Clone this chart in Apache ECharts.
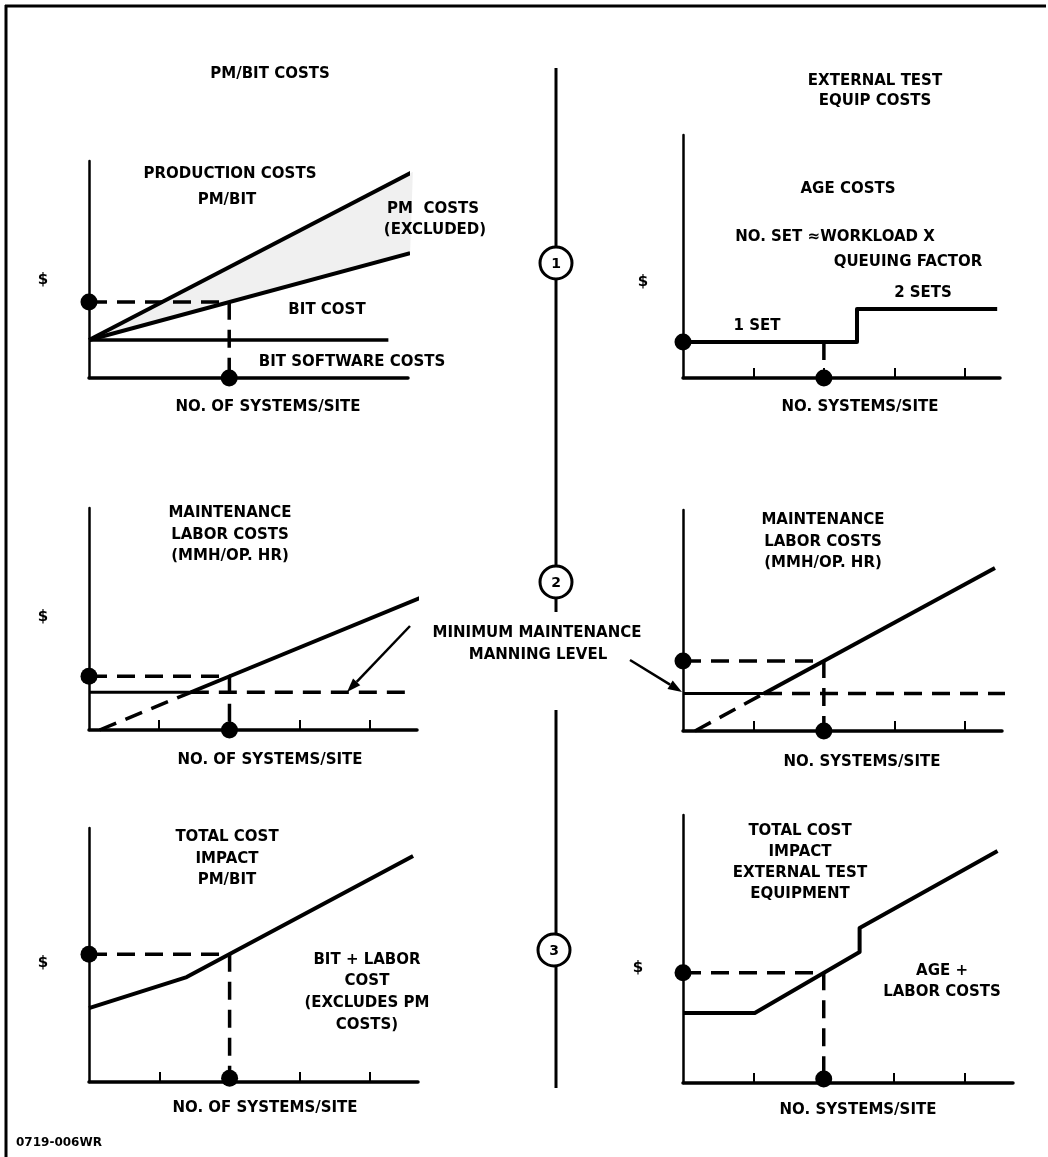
<!DOCTYPE html>
<html>
<head>
<meta charset="utf-8">
<script src="https://cdn.jsdelivr.net/npm/echarts@6/dist/echarts.min.js"></script>
<style>
html,body{margin:0;padding:0;background:#fff;}
#chart{width:1048px;height:1157px;}
</style>
</head>
<body>
<div id="chart"></div>
<script>
// ---------- DATA (schematic values in arbitrary units: x = systems/site, y = $) ----------
// Panel 1: PM/BIT costs
const p1Production = [[0, 1.75], [4.62, 9.5]];
const p1Bit = [[0, 1.75], [4.58, 5.75]];
const p1Software = [[0, 1.75], [4.27, 1.75]];
const p1Guide = [[0, 3.5], [2, 3.5], [2, 0]];
const p1Dots = [[0, 3.5], [2, 0]];
// Panel 2: external test equipment (AGE) costs
const p2Step = [[0, 1.48], [2.47, 1.48], [2.47, 2.84], [4.46, 2.84]];
const p2Guide = [[2, 1.48], [2, 0]];
const p2Dots = [[0, 1.48], [2, 0]];
// Panel 3: maintenance labor costs (PM/BIT)
const p3LaborDashed = [[0.15, 0], [1.45, 1.7]];
const p3LaborSolid = [[1.45, 1.7], [4.75, 6.0]];
const p3MinSolid = [[0, 1.7], [1.45, 1.7]];
const p3MinDashed = [[1.45, 1.7], [4.6, 1.7]];
const p3Guide = [[0, 2.42], [2, 2.42], [2, 0]];
const p3Dots = [[0, 2.42], [2, 0]];
// Panel 4: maintenance labor costs (external test equipment)
const p4LaborDashed = [[0.17, 0], [1.15, 1.7]];
const p4LaborSolid = [[1.15, 1.7], [4.43, 7.38]];
const p4MinSolid = [[0, 1.7], [1.15, 1.7]];
const p4MinDashed = [[1.15, 1.7], [4.67, 1.7]];
const p4Guide = [[0, 3.17], [2, 3.17], [2, 0]];
const p4Dots = [[0, 3.17], [2, 0]];
// Panel 5: total cost impact PM/BIT
const p5Total = [[0, 2.91], [1.39, 4.13], [4.61, 8.9]];
const p5Guide = [[0, 5.03], [2, 5.03], [2, 0]];
const p5Dots = [[0, 5.03], [2, 0.15]];
// Panel 6: total cost impact external test equipment
const p6Total = [[0, 2.61], [1.02, 2.61], [2.51, 4.89], [2.51, 5.78], [4.47, 8.66]];
const p6Guide = [[0, 4.11], [2, 4.11], [2, 0]];
const p6Dots = [[0, 4.11], [2, 0.15]];
// Tick positions on the x axes
const xTicks = [1, 2, 3, 4];
// Axis extents per panel
const xMax = [4.55, 4.5, 4.67, 4.53, 4.68, 4.69];
const yMax = [10, 10, 10, 10, 10, 10];
const panelHasTicks = [false, true, true, true, true, true];

// ---------- LAYOUT ----------
const grids = [
  {left: 89, top: 161, width: 319, height: 217},
  {left: 683, top: 135, width: 317, height: 243},
  {left: 89, top: 508, width: 328, height: 222},
  {left: 683, top: 510, width: 319, height: 221},
  {left: 89, top: 828, width: 329, height: 254},
  {left: 683, top: 815, width: 330, height: 268}
];
const FONT = '"DejaVu Sans", "Liberation Sans", Arial, sans-serif';
const DASH = [18, 10];

const xAxes = grids.map((g, i) => ({
  type: 'value', gridIndex: i, min: 0, max: xMax[i],
  axisLine: {show: true, onZero: false, lineStyle: {color: '#000', width: 3.5}},
  axisTick: {show: panelHasTicks[i], inside: true, length: 10, customValues: xTicks,
             lineStyle: {color: '#000', width: 2}},
  axisLabel: {show: false}, splitLine: {show: false}
}));
const yAxes = grids.map((g, i) => ({
  type: 'value', gridIndex: i, min: 0, max: yMax[i],
  axisLine: {show: true, onZero: false, lineStyle: {color: '#000', width: 2.5}},
  axisTick: {show: false}, axisLabel: {show: false}, splitLine: {show: false}
}));

function line(idx, data, dashed, width) {
  return {
    type: 'line', xAxisIndex: idx, yAxisIndex: idx, data: data,
    symbol: 'none', clip: false, silent: true, animation: false,
    lineStyle: {color: '#000', width: width || 3.5, type: dashed ? DASH : 'solid', cap: 'butt', join: 'round'}
  };
}
function dots(idx, data) {
  return {
    type: 'scatter', xAxisIndex: idx, yAxisIndex: idx, data: data, clip: false,
    symbol: 'circle', symbolSize: 17, itemStyle: {color: '#000', opacity: 1}, silent: true, animation: false, z: 5
  };
}

const series = [
  // panel 1 shaded PM cost wedge
  {
    type: 'custom', xAxisIndex: 0, yAxisIndex: 0, data: [0], silent: true, animation: false, clip: false,
    renderItem: function (params, api) {
      const pts = [p1Production[0], p1Production[1], p1Bit[1]].map(p => api.coord(p));
      return {type: 'polygon', shape: {points: pts}, style: {fill: 'rgba(0,0,0,0.06)'}};
    }
  },
  line(0, p1Production, false, 4), line(0, p1Bit, false, 4), line(0, p1Software, false, 3.5),
  line(0, p1Guide, true, 3.5), dots(0, p1Dots),
  line(1, p2Step, false, 4), line(1, p2Guide, true, 3.5), dots(1, p2Dots),
  line(2, p3LaborDashed, true, 3.5), line(2, p3LaborSolid, false, 4),
  line(2, p3MinSolid, false, 3), line(2, p3MinDashed, true, 3.5),
  line(2, p3Guide, true, 3.5), dots(2, p3Dots),
  line(3, p4LaborDashed, true, 3.5), line(3, p4LaborSolid, false, 4),
  line(3, p4MinSolid, false, 3), line(3, p4MinDashed, true, 3.5),
  line(3, p4Guide, true, 3.5), dots(3, p4Dots),
  line(4, p5Total, false, 4), line(4, p5Guide, true, 3.5), dots(4, p5Dots),
  line(5, p6Total, false, 4), line(5, p6Guide, true, 3.5), dots(5, p6Dots)
];

// ---------- ANNOTATIONS ----------
function T(text, x, y, size, align) {
  return {
    type: 'text', x: x, y: y, silent: true, z: 10,
    style: {text: text, font: 'bold ' + (size || 15) + 'px ' + FONT, fill: '#000',
            align: align || 'center', verticalAlign: 'middle'}
  };
}
function L(x1, y1, x2, y2, w) {
  return {type: 'line', silent: true, shape: {x1: x1, y1: y1, x2: x2, y2: y2},
          style: {stroke: '#000', lineWidth: w || 3}};
}
function arrow(x1, y1, x2, y2) {
  const a = Math.atan2(y2 - y1, x2 - x1), len = 14, hw = 5;
  const bx = x2 - len * Math.cos(a), by = y2 - len * Math.sin(a);
  const px = -Math.sin(a) * hw, py = Math.cos(a) * hw;
  return [
    L(x1, y1, bx, by, 2.5),
    {type: 'polygon', silent: true, shape: {points: [[x2, y2], [bx + px, by + py], [bx - px, by - py]]},
     style: {fill: '#000'}}
  ];
}
function circleNum(n, cx, cy) {
  return [
    {type: 'circle', silent: true, z: 8, shape: {cx: cx, cy: cy, r: 16},
     style: {fill: '#fff', stroke: '#000', lineWidth: 3}},
    Object.assign(T(String(n), cx, cy + 1, 14), {z: 9})
  ];
}

const graphics = [
  // frame (top and left)
  L(5, 6, 1046, 6, 3), L(6, 5, 6, 1157, 3),
  // central connector
  L(556, 68, 556, 612, 3), L(556, 710, 556, 1088, 3),
  ...circleNum(1, 556, 263), ...circleNum(2, 556, 582), ...circleNum(3, 554, 950),
  // panel 1
  T('PM/BIT COSTS', 270, 74),
  T('PRODUCTION COSTS', 230, 174), T('PM/BIT', 227, 200),
  T('PM  COSTS', 433, 209), T('(EXCLUDED)', 435, 230),
  T('BIT COST', 327, 310), T('BIT SOFTWARE COSTS', 352, 362),
  T('$', 43, 280), T('NO. OF SYSTEMS/SITE', 268, 407),
  // panel 2
  T('EXTERNAL TEST', 875, 81), T('EQUIP COSTS', 875, 101),
  T('AGE COSTS', 848, 189),
  T('NO. SET \u2248WORKLOAD X', 835, 237), T('QUEUING FACTOR', 908, 262),
  T('2 SETS', 923, 293), T('1 SET', 757, 326),
  T('$', 643, 282), T('NO. SYSTEMS/SITE', 860, 407),
  // panel 3
  T('MAINTENANCE', 230, 513), T('LABOR COSTS', 230, 535), T('(MMH/OP. HR)', 230, 556),
  T('$', 43, 617), T('NO. OF SYSTEMS/SITE', 270, 760),
  // shared label + arrows
  T('MINIMUM MAINTENANCE', 537, 633), T('MANNING LEVEL', 538, 655),
  ...arrow(410, 626, 347, 692), ...arrow(630, 660, 682, 692),
  // panel 4
  T('MAINTENANCE', 823, 520), T('LABOR COSTS', 823, 542), T('(MMH/OP. HR)', 823, 563),
  T('NO. SYSTEMS/SITE', 862, 762),
  // panel 5
  T('TOTAL COST', 227, 837), T('IMPACT', 227, 859), T('PM/BIT', 227, 880),
  T('BIT + LABOR', 367, 960), T('COST', 367, 981), T('(EXCLUDES PM', 367, 1003), T('COSTS)', 367, 1025),
  T('$', 43, 963), T('NO. OF SYSTEMS/SITE', 265, 1108),
  T('0719-006WR', 16, 1143, 12, 'left'),
  // panel 6
  T('TOTAL COST', 800, 831), T('IMPACT', 800, 852), T('EXTERNAL TEST', 800, 873), T('EQUIPMENT', 800, 894),
  T('AGE +', 942, 971), T('LABOR COSTS', 942, 992),
  T('$', 638, 968), T('NO. SYSTEMS/SITE', 858, 1110)
];

const chart = echarts.init(document.getElementById('chart'), null, {renderer: 'canvas'});
chart.setOption({
  animation: false,
  backgroundColor: '#fff',
  grid: grids.map(g => Object.assign({containLabel: false}, g)),
  xAxis: xAxes,
  yAxis: yAxes,
  series: series,
  graphic: graphics
});
</script>
</body>
</html>
